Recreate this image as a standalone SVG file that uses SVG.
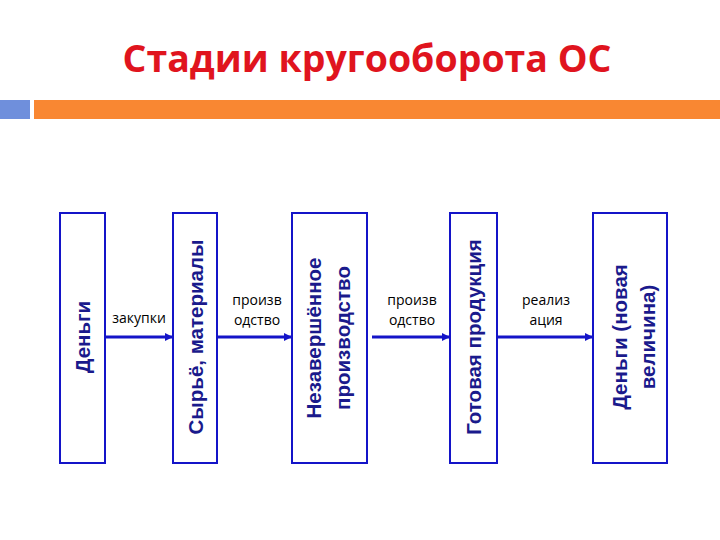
<svg xmlns="http://www.w3.org/2000/svg" width="720" height="540" viewBox="0 0 720 540">
<style>
.box{fill:#fff;stroke:#1414c8;stroke-width:2}
.bt{font-family:"Liberation Sans",Arial,sans-serif;font-weight:bold;font-size:20.5px;fill:#1a1a8c;text-anchor:middle}
.lb{font-family:"Open Sans","Liberation Sans",sans-serif;font-size:14px;fill:#000;text-anchor:middle}
.ar{stroke:#1414c8;stroke-width:3;fill:none;marker-end:url(#ah)}
</style>
<defs>
<marker id="ah" markerWidth="8" markerHeight="8" refX="7" refY="4" orient="auto" markerUnits="userSpaceOnUse">
<path d="M0,0 L8,4 L0,8 z" fill="#1414c8"/>
</marker>
</defs>
<rect width="720" height="540" fill="#fff"/>
<text x="367" y="72" font-family="Open Sans,Liberation Sans,sans-serif" font-weight="bold" font-size="37.5" fill="#e0141e" text-anchor="middle">Стадии кругооборота ОС</text>
<rect x="0" y="100" width="30" height="19" fill="#6f8fdc"/>
<rect x="34" y="100" width="686" height="19" fill="#f98732"/>
<g id="connectors">
<line class="ar" x1="105" y1="337" x2="172" y2="337"/>
<line class="ar" x1="217" y1="337" x2="291" y2="337"/>
<line class="ar" x1="372" y1="337" x2="449" y2="337"/>
<line class="ar" x1="497" y1="337" x2="592" y2="337"/>
<text class="lb" x="139" y="323">закупки</text>
<text class="lb" x="257" y="305">произв</text>
<text class="lb" x="257" y="325">одство</text>
<text class="lb" x="412" y="305">произв</text>
<text class="lb" x="412" y="325">одство</text>
<text class="lb" x="546" y="305">реализ</text>
<text class="lb" x="546" y="325">ация</text>
</g>
<g id="n1">
<rect class="box" x="60" y="213" width="45" height="250"/>
<text class="bt" transform="translate(90,337) rotate(-90)">Деньги</text>
</g>
<g id="n2">
<rect class="box" x="173" y="213" width="44" height="250"/>
<text class="bt" transform="translate(203,337) rotate(-90)">Сырьё, материалы</text>
</g>
<g id="n3">
<rect class="box" x="292" y="213" width="75" height="250"/>
<text class="bt" transform="translate(321,338) rotate(-90)">Незавершённое</text>
<text class="bt" transform="translate(350,338) rotate(-90)">производство</text>
</g>
<g id="n4">
<rect class="box" x="450" y="213" width="47" height="250"/>
<text class="bt" transform="translate(481,337) rotate(-90)">Готовая продукция</text>
</g>
<g id="n5">
<rect class="box" x="593" y="213" width="74" height="250"/>
<text class="bt" transform="translate(627,337) rotate(-90)">Деньги (новая</text>
<text class="bt" transform="translate(655,337) rotate(-90)">величина)</text>
</g>
</svg>
